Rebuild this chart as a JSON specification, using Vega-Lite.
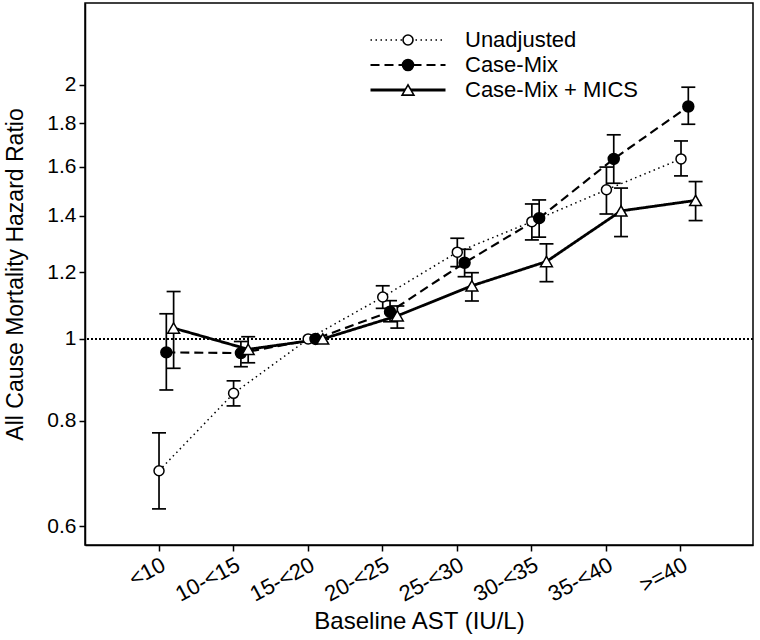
{
  "$schema": "https://vega.github.io/schema/vega-lite/v6.json",
  "width": 668,
  "height": 542,
  "autosize": "none",
  "padding": {"left": 85, "top": 3, "right": 7, "bottom": 95},
  "config": {
    "font": "Liberation Sans",
    "view": {"stroke": "black", "strokeWidth": 1.5},
    "axis": {
      "grid": false, "domainColor": "black", "domainWidth": 1.5,
      "tickColor": "black", "tickWidth": 1.5, "tickSize": 6,
      "labelColor": "black", "titleColor": "black",
      "labelFontSize": 21, "titleFontSize": 23, "titleFontWeight": "normal"
    },
    "legend": {
      "orient": "none", "legendX": 312, "legendY": 26, "title": null,
      "labelFontSize": 22, "labelOffset": 46, "labelLimit": 400, "rowPadding": 3, "padding": 0,
      "labelColor": "black", "symbolStrokeColor": "black"
    }
  },
  "data": {
    "values": [
      {"ast": "<10", "series": "Unadjusted", "hr": 0.698, "lo": 0.629, "hi": 0.774},
      {"ast": "<10", "series": "Case-Mix", "hr": 0.964, "lo": 0.870, "hi": 1.071},
      {"ast": "<10", "series": "Case-Mix + MICS", "hr": 1.030, "lo": 0.923, "hi": 1.138},
      {"ast": "10-<15", "series": "Unadjusted", "hr": 0.862, "lo": 0.833, "hi": 0.892},
      {"ast": "10-<15", "series": "Case-Mix", "hr": 0.962, "lo": 0.927, "hi": 0.993},
      {"ast": "10-<15", "series": "Case-Mix + MICS", "hr": 0.972, "lo": 0.937, "hi": 1.006},
      {"ast": "15-<20", "series": "Unadjusted", "hr": 1.0, "lo": null, "hi": null},
      {"ast": "15-<20", "series": "Case-Mix", "hr": 1.0, "lo": null, "hi": null},
      {"ast": "15-<20", "series": "Case-Mix + MICS", "hr": 1.0, "lo": null, "hi": null},
      {"ast": "20-<25", "series": "Unadjusted", "hr": 1.121, "lo": 1.087, "hi": 1.156},
      {"ast": "20-<25", "series": "Case-Mix", "hr": 1.077, "lo": 1.048, "hi": 1.110},
      {"ast": "20-<25", "series": "Case-Mix + MICS", "hr": 1.065, "lo": 1.030, "hi": 1.094},
      {"ast": "25-<30", "series": "Unadjusted", "hr": 1.267, "lo": 1.218, "hi": 1.316},
      {"ast": "25-<30", "series": "Case-Mix", "hr": 1.231, "lo": 1.185, "hi": 1.277},
      {"ast": "25-<30", "series": "Case-Mix + MICS", "hr": 1.156, "lo": 1.109, "hi": 1.198},
      {"ast": "30-<35", "series": "Unadjusted", "hr": 1.377, "lo": 1.310, "hi": 1.445},
      {"ast": "30-<35", "series": "Case-Mix", "hr": 1.390, "lo": 1.320, "hi": 1.461},
      {"ast": "30-<35", "series": "Case-Mix + MICS", "hr": 1.235, "lo": 1.169, "hi": 1.296},
      {"ast": "35-<40", "series": "Unadjusted", "hr": 1.502, "lo": 1.406, "hi": 1.598},
      {"ast": "35-<40", "series": "Case-Mix", "hr": 1.634, "lo": 1.529, "hi": 1.745},
      {"ast": "35-<40", "series": "Case-Mix + MICS", "hr": 1.418, "lo": 1.322, "hi": 1.509},
      {"ast": ">=40", "series": "Unadjusted", "hr": 1.634, "lo": 1.560, "hi": 1.716},
      {"ast": ">=40", "series": "Case-Mix", "hr": 1.885, "lo": 1.796, "hi": 1.987},
      {"ast": ">=40", "series": "Case-Mix + MICS", "hr": 1.459, "lo": 1.381, "hi": 1.536}
    ]
  },
  "transform": [{"calculate": "datum.series", "as": "marker"}],
  "layer": [
    {
      "mark": {"type": "rule", "color": "black", "strokeWidth": 1, "strokeDash": [1.5, 2.5]},
      "encoding": {
        "y": {"datum": 1, "type": "quantitative", "scale": {"type": "log", "domain": [0.57, 2.5], "nice": false},
          "axis": {"values": [0.6, 0.8, 1, 1.2, 1.4, 1.6, 1.8, 2], "format": "~g", "title": "All Cause Mortality Hazard Ratio", "titlePadding": 19, "labelPadding": 3}}
      }
    },
    {
      "encoding": {
        "x": {"field": "ast", "type": "nominal", "sort": ["<10", "10-<15", "15-<20", "20-<25", "25-<30", "30-<35", "35-<40", ">=40"],
          "scale": {"type": "band", "paddingInner": 0, "paddingOuter": 0.479, "align": 0.514},
          "axis": {"title": "Baseline AST (IU/L)", "titleFontSize": 24, "labelFontSize": 22, "labelAngle": -28, "labelPadding": 3, "titlePadding": 5}},
        "xOffset": {"field": "series", "type": "nominal", "sort": ["Unadjusted", "Case-Mix", "Case-Mix + MICS"],
          "scale": {"type": "point", "range": [37.3, 51.9], "padding": 0}}
      },
      "layer": [
        {
          "mark": {"type": "rule", "color": "black", "strokeWidth": 1.7},
          "encoding": {"y": {"field": "lo", "type": "quantitative"}, "y2": {"field": "hi"}}
        },
        {
          "mark": {"type": "tick", "color": "black", "size": 14, "thickness": 1.7, "opacity": 1},
          "encoding": {"y": {"field": "lo", "type": "quantitative"}}
        },
        {
          "mark": {"type": "tick", "color": "black", "size": 14, "thickness": 1.7, "opacity": 1},
          "encoding": {"y": {"field": "hi", "type": "quantitative"}}
        },
        {
          "mark": {"type": "line", "color": "black"},
          "encoding": {
            "y": {"field": "hr", "type": "quantitative"},
            "strokeDash": {"field": "series", "type": "nominal", "sort": {"field": "hr", "op": "min"},
              "scale": {"range": [[1.5, 3.5], [9, 5], [1, 0]]},
              "legend": {"symbolType": "M-7.5,0H7.5", "symbolSize": 100, "symbolFillColor": "transparent"}},
            "strokeWidth": {"field": "series", "type": "nominal", "sort": {"field": "hr", "op": "min"},
              "scale": {"range": [1.5, 2.8]},
              "legend": {"symbolType": "M-7.5,0H7.5", "symbolSize": 100, "symbolFillColor": "transparent"}}
          }
        },
        {
          "mark": {"type": "point", "filled": true, "stroke": "black", "strokeWidth": 1.5, "opacity": 1},
          "encoding": {
            "y": {"field": "hr", "type": "quantitative"},
            "shape": {"field": "marker", "type": "nominal", "sort": {"field": "hr", "op": "min"},
              "scale": {"range": ["circle", "circle", "triangle-up"]},
              "legend": {"labelColor": "transparent", "symbolStrokeColor": "black", "symbolStrokeWidth": 1.5, "symbolOpacity": 1,
                "encode": {"symbols": {"update": {"stroke": {"value": "black"}, "strokeWidth": {"value": 1.6}, "size": {"value": 170}}}}}},
            "fill": {"field": "marker", "type": "nominal", "sort": {"field": "hr", "op": "min"},
              "scale": {"range": ["white", "black", "white"]},
              "legend": {"labelColor": "transparent", "symbolStrokeColor": "black", "symbolStrokeWidth": 1.5, "symbolOpacity": 1,
                "encode": {"symbols": {"update": {"stroke": {"value": "black"}, "strokeWidth": {"value": 1.6}, "size": {"value": 170}}}}}},
            "size": {"field": "marker", "type": "nominal", "sort": {"field": "hr", "op": "min"},
              "scale": {"range": [100, 140]},
              "legend": {"labelColor": "transparent", "symbolStrokeColor": "black", "symbolStrokeWidth": 1.5, "symbolOpacity": 1,
                "encode": {"symbols": {"update": {"stroke": {"value": "black"}, "strokeWidth": {"value": 1.6}, "size": {"value": 170}}}}}}
          }
        }
      ]
    }
  ]
}
